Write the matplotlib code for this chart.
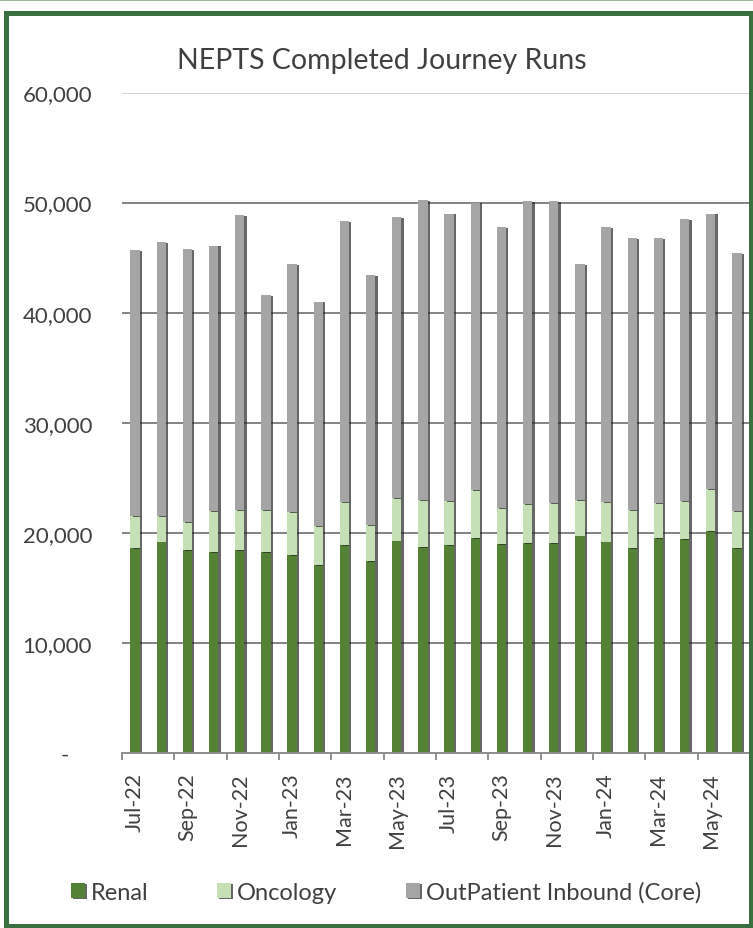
import numpy as np
import matplotlib
matplotlib.use("Agg")
import matplotlib.pyplot as plt
from matplotlib import patheffects
from matplotlib.patches import Rectangle
from matplotlib.lines import Line2D
from matplotlib.ticker import FuncFormatter, FixedLocator

# monthly completed journey runs, Jul-22 .. Jun-24
months = ['Jul-22', 'Aug-22', 'Sep-22', 'Oct-22', 'Nov-22', 'Dec-22',
          'Jan-23', 'Feb-23', 'Mar-23', 'Apr-23', 'May-23', 'Jun-23',
          'Jul-23', 'Aug-23', 'Sep-23', 'Oct-23', 'Nov-23', 'Dec-23',
          'Jan-24', 'Feb-24', 'Mar-24', 'Apr-24', 'May-24', 'Jun-24']
renal = [18600, 19200, 18400, 18250, 18400, 18250, 18000, 17100, 18850, 17400, 19300, 18700,
         18850, 19550, 18950, 19100, 19100, 19750, 19200, 18600, 19550, 19450, 20150, 18600]
oncology = [2900, 2300, 2600, 3750, 3700, 3850, 3900, 3500, 3950, 3300, 3850, 4300,
            4000, 4300, 3300, 3500, 3600, 3250, 3600, 3500, 3150, 3450, 3850, 3400]
outpatient = [24200, 24900, 24750, 24100, 26800, 19500, 22500, 20400, 25500, 22700, 25550, 27200,
              26150, 26150, 25550, 27500, 27450, 21400, 25000, 24700, 24100, 25600, 25000, 23400]

FONT = 'Lato'
plt.rcParams['font.family'] = [FONT, 'DejaVu Sans']
TXT = '#404040'

fig = plt.figure(figsize=(7.53, 9.29), dpi=100)
ax = fig.add_axes([122 / 753, 1 - 754 / 929, (750 - 122) / 753, (754 - 93.5) / 929])

x = np.arange(len(months))
width = 0.36
shadow = [patheffects.SimplePatchShadow(offset=(1.6, -0.6), shadow_rgbFace='#262626', alpha=0.7),
          patheffects.Normal()]

b1 = ax.bar(x, renal, width, color='#548235', label='Renal', zorder=3)
b2 = ax.bar(x, oncology, width, bottom=renal, color='#c5e0b4', label='Oncology', zorder=3)
base = np.array(renal) + np.array(oncology)
b3 = ax.bar(x, outpatient, width, bottom=base, color='#a5a5a5',
            label='OutPatient Inbound (Core)', zorder=3)
for bars in (b1, b2, b3):
    for p in bars:
        p.set_path_effects(shadow)

ax.set_xlim(-0.5, 23.5)
ax.set_ylim(0, 60000)

# gridlines
ax.yaxis.set_major_locator(FixedLocator(range(0, 60001, 10000)))
for yv in range(10000, 60001, 10000):
    col = '#c8c8c8' if yv == 60000 else '#6e6e6e'
    ax.axhline(yv, color=col, lw=1.2, zorder=1)

# accounting style: zero shown as a dash, indented
ax.yaxis.set_major_formatter(FuncFormatter(lambda v, p: '-    ' if v == 0 else f'{int(v):,}'))
ax.tick_params(axis='y', length=0, pad=21.5, labelsize=16, labelcolor=TXT)

# month labels every second bar, boundary tick marks every second bar
ax.set_xticks(x[::2])
ax.set_xticklabels(months[::2], rotation=90, fontsize=15.5, color=TXT)
ax.tick_params(axis='x', length=0, pad=14)
ax.set_xticks(np.arange(-0.5, 24, 2), minor=True)
ax.tick_params(axis='x', which='minor', length=5, width=1.2, color='#7f7f7f', direction='out')

for side in ('top', 'right', 'left'):
    ax.spines[side].set_visible(False)
ax.spines['bottom'].set_color('#8c8c8c')
ax.spines['bottom'].set_linewidth(1.4)
ax.spines['bottom'].set_zorder(4)

fig.text(382 / 753, 1 - 61 / 929, 'NEPTS Completed Journey Runs', ha='center', va='center',
         fontsize=20.5, color=TXT)

fig.legend(handles=[b1, b2, b3], loc='center', bbox_to_anchor=(386 / 753, 1 - 893 / 929),
           ncol=3, frameon=False, fontsize=17, handlelength=0.6, handleheight=0.6,
           handletextpad=0.25, columnspacing=2.9, labelcolor=TXT)

# outer frame
px = 72 / 100
fig.add_artist(Rectangle((6.5 / 753, 1 - 926.5 / 929), (750.5 - 6.5) / 753, (926.5 - 13.5) / 929,
                         transform=fig.transFigure, fill=False, edgecolor='#3a6f3f',
                         linewidth=5 * px, zorder=10, joinstyle='miter'))
fig.add_artist(Line2D([0, 1], [1 - 0.8 / 929] * 2, transform=fig.transFigure,
                      color='#7aa77c', linewidth=1.6 * px, zorder=10))

fig.savefig('out.png', dpi=100)
